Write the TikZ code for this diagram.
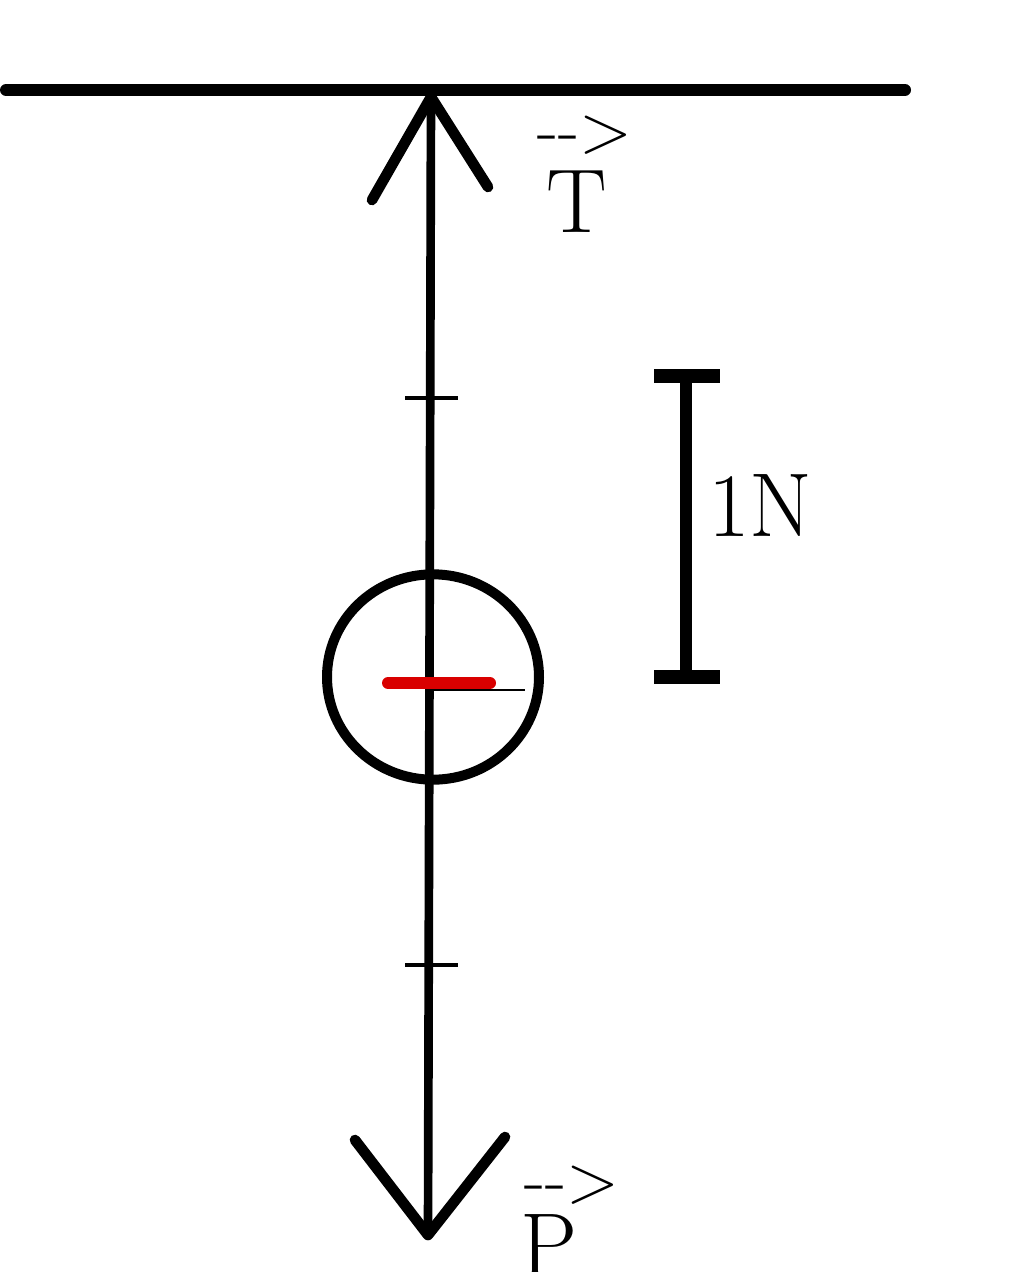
\documentclass[tikz,border=0pt]{standalone}
\usetikzlibrary{shapes.geometric}
\begin{document}
\begin{tikzpicture}[x=0.75pt,y=-0.75pt,
  thick line/.style={line width=9pt,line cap=round},
  vec/.style={line width=6.5pt,line cap=round,line join=round},
  tickmark/.style={line width=2.6pt},
  lbl/.style={inner sep=0pt,font=\fontsize{68}{80}\selectfont},
  arr/.style={inner sep=0pt,font=\fontsize{52}{60}\selectfont}]
\useasboundingbox (0,0) rectangle (1024,1272);
% ceiling
\coordinate (cl) at (6,90);
\coordinate (cr) at (905,90);
\draw[thick line] (cl) -- (cr);
% force line
\coordinate (top) at (431,97);
\coordinate (bot) at (428,1235);
\coordinate (c) at (433,677);
\draw[vec] (top) -- (bot);
\coordinate (tl) at (372,200);
\coordinate (tr) at (488,187);
\draw[vec,line width=8pt] (tl) -- (top) -- (tr);
\coordinate (bl) at (355,1140);
\coordinate (br) at (505,1137);
\draw[vec,line width=8pt] (bl) -- (bot) -- (br);
% ticks
\coordinate (t1a) at (405,398); \coordinate (t1b) at (458,398);
\coordinate (t2a) at (405,965); \coordinate (t2b) at (458,965);
\draw[tickmark] (t1a) -- (t1b);
\draw[tickmark] (t2a) -- (t2b);
% body
\node[draw,ellipse,line width=7.5pt,minimum width=159pt,minimum height=154pt,inner sep=0pt] (ball) at (c) {};
\coordinate (ra) at (388,683); \coordinate (rb) at (490,683);
\draw[red!85!black,line width=9pt,line cap=round] (ra) -- (rb);
\coordinate (ka) at (432,690); \coordinate (kb) at (525,690);
\draw[line width=1.3pt] (ka) -- (kb);
% scale bar
\coordinate (sa) at (686,376); \coordinate (sb) at (686,677);
\draw[line width=9pt] (sa) -- (sb);
\coordinate (s1) at (654,376); \coordinate (s2) at (720,376);
\coordinate (s3) at (654,677); \coordinate (s4) at (720,677);
\draw[line width=10.5pt] (s1) -- (s2);
\draw[line width=10.5pt] (s3) -- (s4);
\node[lbl,anchor=base west] (oneN) at (708,536) {1N};
% labels
\node[arr] (Tarr) at (585,135) {-{}-{}>};
\node[lbl,anchor=base] (T) at (577,232) {T};
\node[arr] (Parr) at (572,1185) {-{}-{}>};
\node[lbl,anchor=base] (P) at (549,1276) {P};
\end{tikzpicture}
\end{document}
